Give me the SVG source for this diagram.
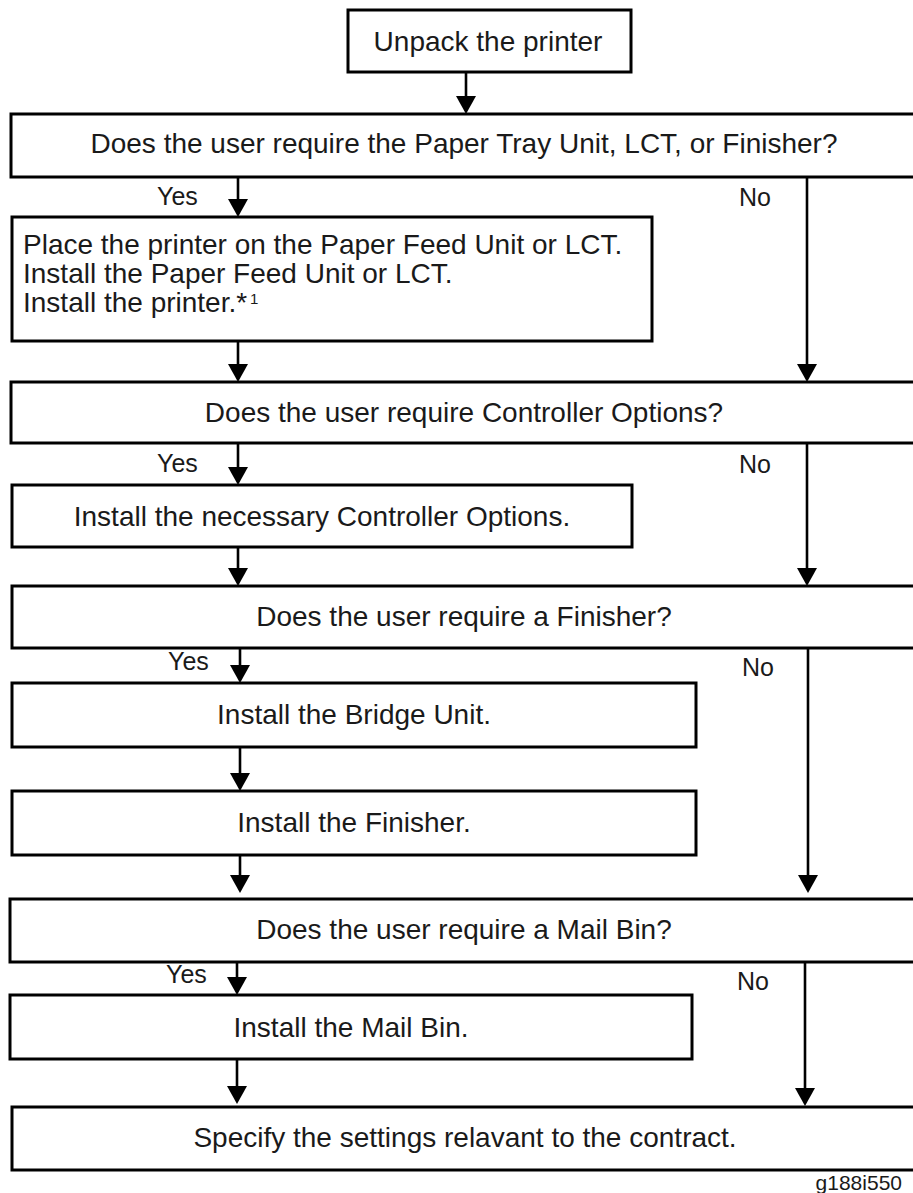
<svg xmlns="http://www.w3.org/2000/svg" width="913" height="1193" viewBox="0 0 913 1193">
<style>
.box{fill:#fff;stroke:#000;stroke-width:3}
.t{font-family:"Liberation Sans",Arial,sans-serif;font-size:28px;fill:#1a1a1a}
.c{text-anchor:middle}
.sup{font-family:"Liberation Sans",Arial,sans-serif;font-size:15px;fill:#1a1a1a}
.lbl{font-family:"Liberation Sans",Arial,sans-serif;font-size:25px;fill:#1a1a1a}
.ln{stroke:#000;stroke-width:2.6;fill:none;marker-end:url(#ah)}
.fn{font-family:"Liberation Sans",Arial,sans-serif;font-size:21px;fill:#1a1a1a;text-anchor:end}
</style>
<defs>
<marker id="ah" markerUnits="userSpaceOnUse" viewBox="0 0 18 20" refX="10" refY="10" markerWidth="18" markerHeight="20" orient="auto">
<path d="M0,0 L18,10 L0,20 z" fill="#000"/>
</marker>
</defs>
<rect width="913" height="1193" fill="#fff"/>
<g id="connectors">
<line class="ln" x1="466" y1="72" x2="466" y2="106"/>
<line class="ln" x1="238" y1="177" x2="238" y2="209"/>
<line class="ln" x1="238" y1="341" x2="238" y2="374"/>
<line class="ln" x1="807" y1="177" x2="807" y2="374"/>
<line class="ln" x1="238" y1="443" x2="238" y2="477"/>
<line class="ln" x1="238" y1="547" x2="238" y2="578"/>
<line class="ln" x1="807" y1="443" x2="807" y2="578"/>
<line class="ln" x1="240" y1="648" x2="240" y2="675"/>
<line class="ln" x1="240" y1="747" x2="240" y2="783"/>
<line class="ln" x1="240" y1="855" x2="240" y2="885"/>
<line class="ln" x1="808" y1="648" x2="808" y2="885"/>
<line class="ln" x1="237" y1="962" x2="237" y2="987"/>
<line class="ln" x1="237" y1="1059" x2="237" y2="1096"/>
<line class="ln" x1="805" y1="962" x2="805" y2="1098"/>
<text class="lbl" x="157" y="205">Yes</text>
<text class="lbl" x="739" y="206">No</text>
<text class="lbl" x="157" y="472">Yes</text>
<text class="lbl" x="739" y="473">No</text>
<text class="lbl" x="168" y="670">Yes</text>
<text class="lbl" x="742" y="676">No</text>
<text class="lbl" x="166" y="983">Yes</text>
<text class="lbl" x="737" y="990">No</text>
</g>
<g id="n0">
<rect class="box" x="348" y="10" width="283" height="62"/>
<text class="t c" x="488" y="51">Unpack the printer</text>
</g>
<g id="q1">
<rect class="box" x="11" y="114" width="920" height="63"/>
<text class="t c" x="464" y="153">Does the user require the Paper Tray Unit, LCT, or Finisher?</text>
</g>
<g id="n2">
<rect class="box" x="12" y="217" width="640" height="124"/>
<text class="t" x="23" y="254">Place the printer on the Paper Feed Unit or LCT.</text>
<text class="t" x="23" y="283">Install the Paper Feed Unit or LCT.</text>
<text class="t" x="23" y="312">Install the printer.*</text>
<text class="sup" x="250" y="304">1</text>
</g>
<g id="q2">
<rect class="box" x="11" y="382" width="920" height="61"/>
<text class="t c" x="464" y="422">Does the user require Controller Options?</text>
</g>
<g id="n3">
<rect class="box" x="12" y="485" width="620" height="62"/>
<text class="t c" x="322" y="526">Install the necessary Controller Options.</text>
</g>
<g id="q3">
<rect class="box" x="12" y="586" width="920" height="62"/>
<text class="t c" x="464" y="626">Does the user require a Finisher?</text>
</g>
<g id="n4">
<rect class="box" x="12" y="683" width="684" height="64"/>
<text class="t c" x="354" y="724">Install the Bridge Unit.</text>
</g>
<g id="n5">
<rect class="box" x="12" y="791" width="684" height="64"/>
<text class="t c" x="354" y="832">Install the Finisher.</text>
</g>
<g id="q4">
<rect class="box" x="10" y="899" width="920" height="63"/>
<text class="t c" x="464" y="939">Does the user require a Mail Bin?</text>
</g>
<g id="n6">
<rect class="box" x="10" y="995" width="682" height="64"/>
<text class="t c" x="351" y="1037">Install the Mail Bin.</text>
</g>
<g id="n7">
<rect class="box" x="12" y="1107" width="920" height="63"/>
<text class="t c" x="465" y="1147">Specify the settings relavant to the contract.</text>
</g>
<text class="fn" x="902" y="1190">g188i550</text>
</svg>
